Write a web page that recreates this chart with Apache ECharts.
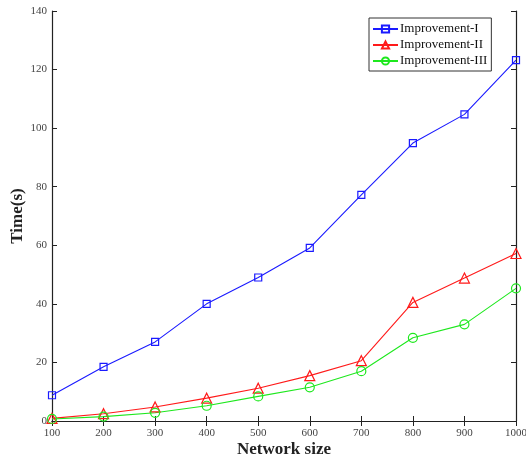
<!DOCTYPE html>
<html>
<head>
<meta charset="utf-8">
<script src="https://cdn.jsdelivr.net/npm/echarts@6/dist/echarts.min.js"></script>
<style>
  html, body { margin: 0; padding: 0; background: #fff; }
  #chart { width: 526px; height: 463px; }
</style>
</head>
<body>
<div id="chart"></div>
<script>
// Network sizes on the x axis
const networkSizes = [100, 200, 300, 400, 500, 600, 700, 800, 900, 1000];
// Running time (s) of each improvement
const improvementI   = [8.8, 18.5, 27.0, 40.0, 49.0, 59.1, 77.2, 94.9, 104.7, 123.2];
const improvementII  = [0.9, 2.5, 4.8, 7.8, 11.2, 15.5, 20.6, 40.5, 48.8, 57.2];
const improvementIII = [0.7, 1.5, 2.8, 5.2, 8.4, 11.5, 17.0, 28.4, 33.0, 45.3];
const seriesNames = ['Improvement-I', 'Improvement-II', 'Improvement-III'];

const FONT = '"Liberation Serif", "Times New Roman", serif';

function pairs(ys) {
  return networkSizes.map((x, i) => [x, ys[i]]);
}

function lineSeries(name, ys, color, symbol, size) {
  return {
    name: name,
    type: 'line',
    data: pairs(ys),
    symbol: symbol,
    symbolSize: size,
    showAllSymbol: true,
    lineStyle: { color: color, width: 1.1 },
    itemStyle: { color: 'rgba(255,255,255,0)', borderColor: color, borderWidth: 1.2 },
    emphasis: { disabled: true },
    z: 3
  };
}

const axisLine = { show: true, lineStyle: { color: '#222', width: 1.2 } };
const tickIn = { show: true, inside: true, length: 5, lineStyle: { color: '#222', width: 1 } };
const tickLabel = { color: '#444', fontFamily: FONT, fontSize: 11, formatter: v => String(v) };

const chart = echarts.init(document.getElementById('chart'), null, { renderer: 'canvas' });
chart.setOption({
  animation: false,
  backgroundColor: '#fff',
  grid: { left: 52, right: 10, top: 11, bottom: 42, containLabel: false, outerBoundsMode: 'none' },
  legend: {
    data: seriesNames,
    orient: 'vertical',
    left: 369,
    top: 18,
    padding: [3, 4, 2, 3],
    itemGap: 0,
    itemWidth: 25,
    itemHeight: 9,
    borderColor: '#333',
    borderWidth: 1,
    backgroundColor: '#fff',
    textStyle: { fontFamily: FONT, fontSize: 13, color: '#111', lineHeight: 16, padding: [0, 0, 0, -3] }
  },
  xAxis: [{
    type: 'value',
    min: 100,
    max: 1000,
    interval: 100,
    name: 'Network size',
    nameLocation: 'middle',
    nameGap: 20,
    nameMoveOverlap: false,
    nameTextStyle: { fontFamily: FONT, fontSize: 17, fontWeight: 'bold', color: '#222' },
    axisLine: axisLine,
    axisTick: tickIn,
    axisLabel: Object.assign({ margin: 7 }, tickLabel),
    splitLine: { show: false }
  }, {
    type: 'value',
    position: 'top',
    min: 100,
    max: 1000,
    interval: 100,
    axisLine: axisLine,
    axisTick: tickIn,
    axisLabel: { show: false },
    splitLine: { show: false }
  }],
  yAxis: [{
    type: 'value',
    min: 0,
    max: 140,
    interval: 20,
    name: 'Time(s)',
    nameLocation: 'middle',
    nameGap: 26,
    nameMoveOverlap: false,
    nameTextStyle: { fontFamily: FONT, fontSize: 17, fontWeight: 'bold', color: '#222' },
    axisLine: axisLine,
    axisTick: tickIn,
    axisLabel: Object.assign({ margin: 5 }, tickLabel),
    splitLine: { show: false }
  }, {
    type: 'value',
    position: 'right',
    min: 0,
    max: 140,
    interval: 20,
    axisLine: axisLine,
    axisTick: tickIn,
    axisLabel: { show: false },
    splitLine: { show: false }
  }],
  series: [
    lineSeries(seriesNames[0], improvementI, '#1a1aff', 'rect', 7),
    lineSeries(seriesNames[1], improvementII, '#ff1a1a', 'triangle', 10),
    lineSeries(seriesNames[2], improvementIII, '#1ee81e', 'circle', 9)
  ]
});
</script>
</body>
</html>
